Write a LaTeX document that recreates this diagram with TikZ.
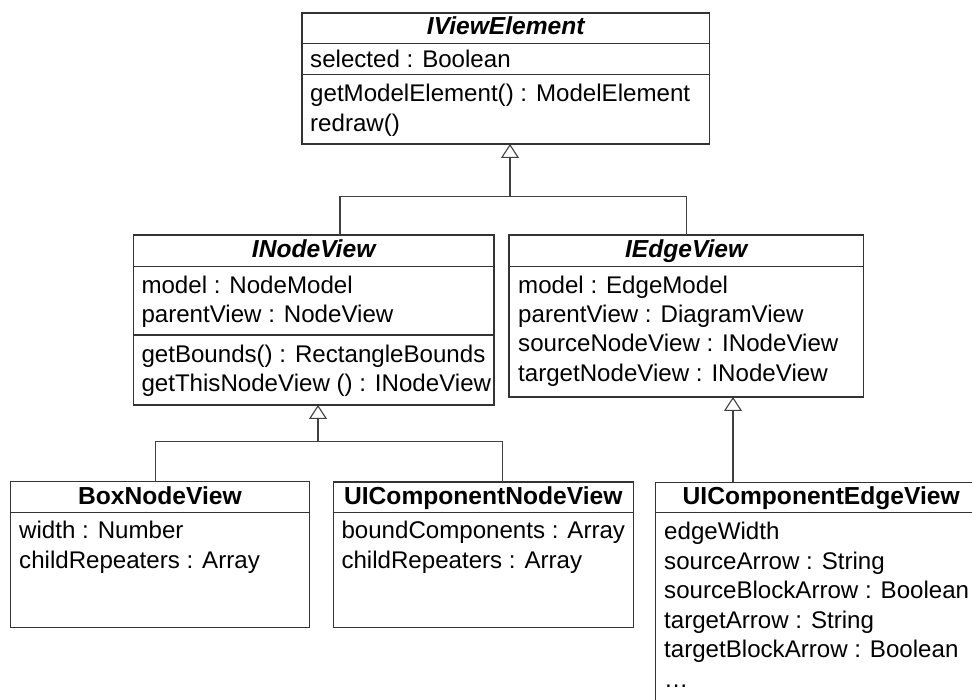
\documentclass[tikz,border=0pt]{standalone}
\usepackage{fontspec}
\setmainfont{Liberation Sans}
\usetikzlibrary{arrows.meta}
\begin{document}
\begin{tikzpicture}[x=1pt,y=-1pt,
  box/.style={draw=black!80, line width=1.2pt, anchor=north west, inner sep=0pt, outer sep=0pt},
  sepline/.style={draw=black!80, line width=1.2pt},
  ttl/.style={anchor=base, inner sep=0pt, font=\fontsize{24.6}{30}\selectfont\bfseries},
  ittl/.style={anchor=base, inner sep=0pt, font=\fontsize{24.6}{30}\selectfont\bfseries\itshape},
  txt/.style={anchor=base west, inner sep=0pt, font=\fontsize{24.1}{30}\selectfont},
  conn/.style={draw=black!75, line width=1.1pt},
  inh/.style={conn, -{Triangle[open, width=18pt, length=14pt, fill=white]}}
]
\useasboundingbox (0,0) rectangle (972,700);
\fill[white] (0,0) rectangle (972,700);
\clip (0,0) rectangle (972,700);

% IViewElement
\node[box, minimum width=407.5pt, minimum height=131pt] (ive) at (302,13) {};
\draw[sepline] ([yshift=-30.3pt]ive.north west) -- ([yshift=-30.3pt]ive.north east);
\draw[sepline] ([yshift=-61.7pt]ive.north west) -- ([yshift=-61.7pt]ive.north east);
\node[ittl] (ivet) at (505.75,35) {IViewElement};
\node[txt] (ive1) at (310,67.3) {selected : Boolean};
\node[txt] (ive2) at (310,101.7) {getModelElement() : ModelElement};
\node[txt] (ive3) at (310,131.7) {redraw()};

% INodeView
\node[box, minimum width=360.7pt, minimum height=170pt] (inv) at (133.3,235) {};
\draw[sepline] ([yshift=-31.3pt]inv.north west) -- ([yshift=-31.3pt]inv.north east);
\draw[sepline] ([yshift=-100pt]inv.north west) -- ([yshift=-100pt]inv.north east);
\node[ittl] (invt) at (313.65,258) {INodeView};
\node[txt] (inv1) at (141.3,293.3) {model : NodeModel};
\node[txt] (inv2) at (141.3,322.5) {parentView : NodeView};
\node[txt] (inv3) at (141.3,362.3) {getBounds() : RectangleBounds};
\node[txt] (inv4) at (141.3,391.7) {getThisNodeView () : INodeView};

% IEdgeView
\node[box, minimum width=354.3pt, minimum height=162pt] (iev) at (509,235) {};
\draw[sepline] ([yshift=-31.7pt]iev.north west) -- ([yshift=-31.7pt]iev.north east);
\node[ittl] (ievt) at (686.15,258) {IEdgeView};
\node[txt] (iev1) at (518,293.5) {model : EdgeModel};
\node[txt] (iev2) at (518,322.8) {parentView : DiagramView};
\node[txt] (iev3) at (518,352) {sourceNodeView : INodeView};
\node[txt] (iev4) at (518,381.3) {targetNodeView : INodeView};

% BoxNodeView
\node[box, minimum width=299.4pt, minimum height=146pt] (bnv) at (10.3,481.7) {};
\draw[sepline] ([yshift=-30.6pt]bnv.north west) -- ([yshift=-30.6pt]bnv.north east);
\node[ttl] (bnvt) at (160,504) {BoxNodeView};
\node[txt] (bnv1) at (19,538.3) {width : Number};
\node[txt] (bnv2) at (19,568.3) {childRepeaters : Array};

% UIComponentNodeView
\node[box, minimum width=300pt, minimum height=145.7pt] (ucn) at (333.3,482) {};
\draw[sepline] ([yshift=-30.7pt]ucn.north west) -- ([yshift=-30.7pt]ucn.north east);
\node[ttl] (ucnt) at (483.3,504) {UIComponentNodeView};
\node[txt] (ucn1) at (341.3,538.3) {boundComponents : Array};
\node[txt] (ucn2) at (341.3,568.3) {childRepeaters : Array};

% UIComponentEdgeView
\node[box, minimum width=331pt, minimum height=240pt] (uce) at (655.7,482.3) {};
\draw[sepline] ([yshift=-30pt]uce.north west) -- ([yshift=-30pt]uce.north east);
\node[ttl] (ucet) at (821.2,504) {UIComponentEdgeView};
\node[txt] (uce1) at (664,539.3) {edgeWidth};
\node[txt] (uce2) at (664,569.3) {sourceArrow : String};
\node[txt] (uce3) at (664,598.5) {sourceBlockArrow : Boolean};
\node[txt] (uce4) at (664,628.3) {targetArrow : String};
\node[txt] (uce5) at (664,657.5) {targetBlockArrow : Boolean};
\node[txt] (uce6) at (664,687) {…};

% connectors
\coordinate (j1) at (510,196.7);
\draw[conn] ([xshift=26.35pt]inv.north) |- (j1) -| (iev.north);
\draw[inh] (j1) -- (j1 |- ive.south);

\coordinate (j2) at (318,441.3);
\draw[conn] ([xshift=-4.3pt]bnv.north) |- (j2) -| ([xshift=19pt]ucn.north);
\draw[inh] (j2) -- (j2 |- inv.south);

\coordinate (j3) at ([xshift=77.3pt]uce.north west);
\draw[inh] (j3) -- (j3 |- iev.south);
\end{tikzpicture}
\end{document}
